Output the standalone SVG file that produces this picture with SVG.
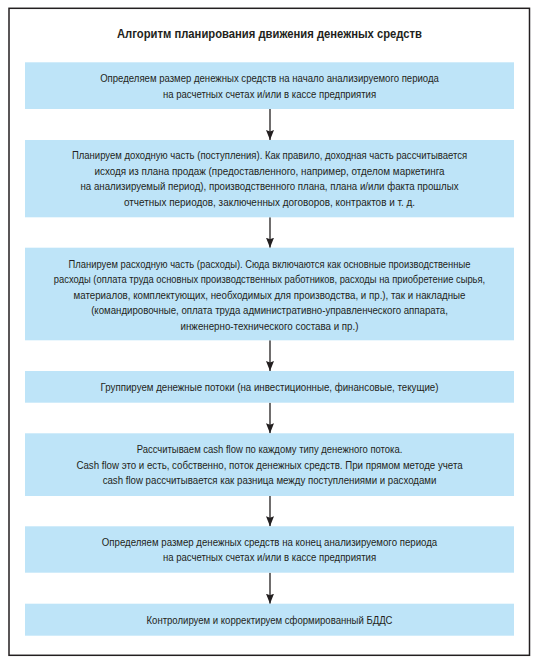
<svg xmlns="http://www.w3.org/2000/svg" width="540" height="664" viewBox="0 0 540 664">
  <defs>
    <style>
      .frame { fill: #ffffff; stroke: #231f20; stroke-width: 1.5; }
      .box { fill: #bee4f8; stroke: none; }
      .t { font-family: "Liberation Sans", Arial, sans-serif; font-size: 11.5px; fill: #231f20; text-anchor: middle; }
      .title { font-family: "Liberation Sans", Arial, sans-serif; font-size: 12.5px; font-weight: bold; fill: #231f20; text-anchor: middle; }
      .conn { stroke: #231f20; stroke-width: 1.3; fill: none; }
    </style>
    <marker id="arrow" markerUnits="userSpaceOnUse" viewBox="0 0 10 8" markerWidth="10" markerHeight="8" refX="10" refY="4" orient="auto">
      <path d="M0,0 L10,4 L0,8 L1.5,4 z" fill="#231f20"/>
    </marker>
  </defs>
  <rect width="540" height="664" fill="#ffffff"/>
  <rect class="frame" x="9" y="8.3" width="520.5" height="647"/>
  <g id="title" transform="matrix(0.82 0 0 1 269.5 0)">
    <text class="title" x="0" y="38.5" textLength="372" lengthAdjust="spacingAndGlyphs">Алгоритм планирования движения денежных средств</text>
  </g>

  <g id="connectors">
    <line class="conn" x1="270" y1="109" x2="270" y2="140" marker-end="url(#arrow)"/>
    <line class="conn" x1="270" y1="217.3" x2="270" y2="247.7" marker-end="url(#arrow)"/>
    <line class="conn" x1="270" y1="340.3" x2="270" y2="371" marker-end="url(#arrow)"/>
    <line class="conn" x1="270" y1="402.7" x2="270" y2="433.3" marker-end="url(#arrow)"/>
    <line class="conn" x1="270" y1="496" x2="270" y2="526.3" marker-end="url(#arrow)"/>
    <line class="conn" x1="270" y1="572.7" x2="270" y2="603.7" marker-end="url(#arrow)"/>
  </g>

  <g id="node1">
    <rect class="box" x="25" y="62.3" width="489" height="46.7"/>
    <g transform="matrix(0.82 0 0 1 269.5 0)">
      <text class="t" x="0" y="82.5" textLength="413" lengthAdjust="spacingAndGlyphs">Определяем размер денежных средств на начало анализируемого периода</text>
      <text class="t" x="0" y="98" textLength="260" lengthAdjust="spacingAndGlyphs">на расчетных счетах и/или в кассе предприятия</text>
    </g>
  </g>

  <g id="node2">
    <rect class="box" x="25" y="140" width="489" height="77.3"/>
    <g transform="matrix(0.82 0 0 1 269.5 0)">
      <text class="t" x="0" y="159.5" textLength="482" lengthAdjust="spacingAndGlyphs">Планируем доходную часть (поступления). Как правило, доходная часть рассчитывается</text>
      <text class="t" x="0" y="175" textLength="427" lengthAdjust="spacingAndGlyphs">исходя из плана продаж (предоставленного, например, отделом маркетинга</text>
      <text class="t" x="0" y="190.5" textLength="461" lengthAdjust="spacingAndGlyphs">на анализируемый период), производственного плана, плана и/или факта прошлых</text>
      <text class="t" x="0" y="206" textLength="355" lengthAdjust="spacingAndGlyphs">отчетных периодов, заключенных договоров, контрактов и т. д.</text>
    </g>
  </g>

  <g id="node3">
    <rect class="box" x="25" y="247.7" width="489" height="92.6"/>
    <g transform="matrix(0.82 0 0 1 269.5 0)">
      <text class="t" x="0" y="268" textLength="490" lengthAdjust="spacingAndGlyphs">Планируем расходную часть (расходы). Сюда включаются как основные производственные</text>
      <text class="t" x="0" y="283.5" textLength="526" lengthAdjust="spacingAndGlyphs">расходы (оплата труда основных производственных работников, расходы на приобретение сырья,</text>
      <text class="t" x="0" y="299" textLength="478" lengthAdjust="spacingAndGlyphs">материалов, комплектующих, необходимых для производства, и пр.), так и накладные</text>
      <text class="t" x="0" y="314.5" textLength="435" lengthAdjust="spacingAndGlyphs">(командировочные, оплата труда административно-управленческого аппарата,</text>
      <text class="t" x="0" y="330" textLength="217" lengthAdjust="spacingAndGlyphs">инженерно-технического состава и пр.)</text>
    </g>
  </g>

  <g id="node4">
    <rect class="box" x="25" y="371" width="489" height="31.7"/>
    <g transform="matrix(0.82 0 0 1 269.5 0)">
      <text class="t" x="0" y="391" textLength="412" lengthAdjust="spacingAndGlyphs">Группируем денежные потоки (на инвестиционные, финансовые, текущие)</text>
    </g>
  </g>

  <g id="node5">
    <rect class="box" x="25" y="433.3" width="489" height="62.7"/>
    <g transform="matrix(0.82 0 0 1 269.5 0)">
      <text class="t" x="0" y="453.5" textLength="324" lengthAdjust="spacingAndGlyphs">Рассчитываем cash flow по каждому типу денежного потока.</text>
      <text class="t" x="0" y="469" textLength="471" lengthAdjust="spacingAndGlyphs">Cash flow это и есть, собственно, поток денежных средств. При прямом методе учета</text>
      <text class="t" x="0" y="484.5" textLength="407" lengthAdjust="spacingAndGlyphs">cash flow рассчитывается как разница между поступлениями и расходами</text>
    </g>
  </g>

  <g id="node6">
    <rect class="box" x="25" y="526.3" width="489" height="46.4"/>
    <g transform="matrix(0.82 0 0 1 269.5 0)">
      <text class="t" x="0" y="546" textLength="409" lengthAdjust="spacingAndGlyphs">Определяем размер денежных средств на конец анализируемого периода</text>
      <text class="t" x="0" y="561.5" textLength="260" lengthAdjust="spacingAndGlyphs">на расчетных счетах и/или в кассе предприятия</text>
    </g>
  </g>

  <g id="node7">
    <rect class="box" x="25" y="603.7" width="489" height="32"/>
    <g transform="matrix(0.82 0 0 1 269.5 0)">
      <text class="t" x="0" y="624" textLength="300" lengthAdjust="spacingAndGlyphs">Контролируем и корректируем сформированный БДДС</text>
    </g>
  </g>
</svg>
